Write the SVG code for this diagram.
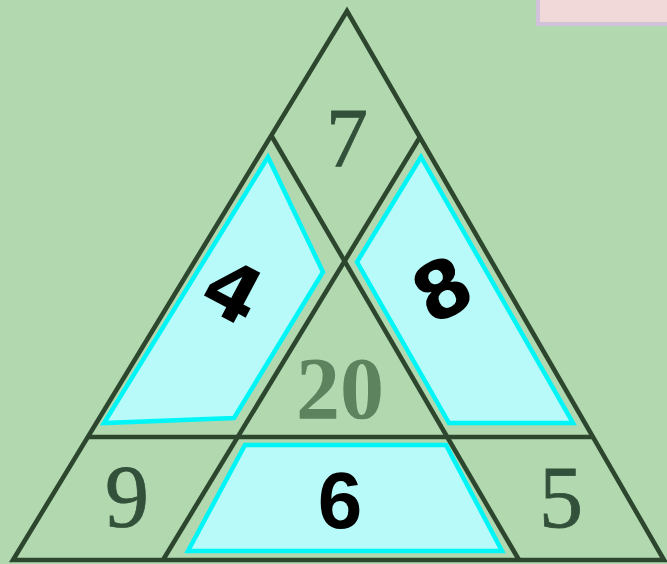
<svg xmlns="http://www.w3.org/2000/svg" width="667" height="564" viewBox="0 0 667 564">
<style>
.ln{stroke:#2c472e;stroke-width:4.6;fill:none;stroke-linejoin:miter}
.cy{fill:#b8f9f9;stroke:#00f6f6;stroke-width:4.5;stroke-linejoin:miter}
.sr{font-family:"Liberation Serif","DejaVu Serif",serif;fill:#33513a;stroke:#33513a;stroke-width:0.8;text-anchor:middle}
.hw{font-family:"DejaVu Sans","Liberation Sans",sans-serif;font-weight:bold;fill:#000;text-anchor:middle}
</style>
<rect x="0" y="0" width="667" height="564" fill="#b2d8b0"/>
<rect id="note" x="538" y="-4" width="135" height="28" fill="#f2d9d9" stroke="#d0c2da" stroke-width="4"/>
<g id="connectors">
<polygon class="ln" points="347,11 13,560 664,560"/>
<line class="ln" x1="88" y1="437" x2="593" y2="437"/>
<line class="ln" x1="271" y1="135" x2="519" y2="560"/>
<line class="ln" x1="420" y1="137" x2="163" y2="560"/>
</g>
<g id="cell-left">
<polygon class="cy" points="268,157 323,272 234,418 104,423"/>
<text class="hw" font-size="78" transform="translate(233,291) rotate(28)" y="28">4</text>
</g>
<g id="cell-right">
<polygon class="cy" points="421,157 573,423 449,423 357,262"/>
<text class="hw" font-size="78" transform="translate(442,289) rotate(-28)" y="28">8</text>
</g>
<g id="cell-bottom">
<polygon class="cy" points="245,445 446,445 502,551 188,551"/>
<text class="hw" x="340" y="528" font-size="80" style="font-family:'Liberation Sans',sans-serif">6</text>
</g>
<g id="cell-top"><text class="sr" x="347" y="167" font-size="84">7</text></g>
<g id="cell-center"><text class="sr" x="340" y="418" font-size="88" font-weight="bold" style="fill:#5d825e;stroke:none">20</text></g>
<g id="cell-bl"><text class="sr" x="127" y="526" font-size="88">9</text></g>
<g id="cell-br"><text class="sr" x="561" y="527" font-size="88">5</text></g>
</svg>
